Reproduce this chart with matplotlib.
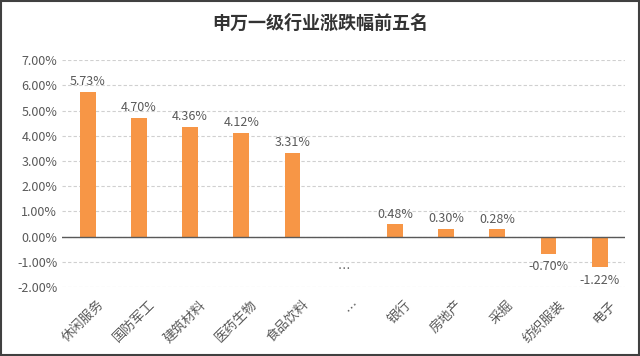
import matplotlib.pyplot as plt
import numpy as np

plt.rcParams['font.family'] = ['Noto Sans CJK SC', 'DejaVu Sans']

industries = ['休闲服务', '国防军工', '建筑材料', '医药生物', '食品饮料', '…',
              '银行', '房地产', '采掘', '纺织服装', '电子']
changes = [5.73, 4.70, 4.36, 4.12, 3.31, np.nan, 0.48, 0.30, 0.28, -0.70, -1.22]
yticks = [-2, -1, 0, 1, 2, 3, 4, 5, 6, 7]

text_color = '#595959'
bar_color = '#F79646'

fig = plt.figure(figsize=(6.4, 3.56), dpi=100)
ax = fig.add_axes([0.097, 0.194, 0.88, 0.637])

x = np.arange(len(industries))
vals = np.nan_to_num(changes)
ax.bar(x, vals, width=0.31, color=bar_color, zorder=3)

for xi, v in zip(x, changes):
    if np.isnan(v):
        ax.text(xi, -1.3, '…', ha='center', va='center', fontsize=9, color=text_color)
        continue
    if v >= 0:
        ax.text(xi, v + 0.15, f'{v:.2f}%', ha='center', va='bottom', fontsize=9, color=text_color)
    else:
        ax.text(xi, v - 0.25, f'{v:.2f}%', ha='center', va='top', fontsize=9, color=text_color)

ax.set_xlim(-0.5, len(industries) - 0.5)
ax.set_ylim(-2, 7)
ax.set_yticks(yticks)
ax.set_yticklabels([f'{t:.2f}%' for t in yticks], fontsize=9, color=text_color)
# labels sit a little right of the bar centre, like the original
ax.set_xticks(x + 0.18)
ax.set_xticklabels(industries, rotation=45, ha='right', rotation_mode='anchor',
                   fontsize=9.5, color=text_color)
ax.tick_params(axis='both', length=0)
ax.tick_params(axis='x', pad=8)
ax.grid(axis='y', linestyle=(0, (3, 2)), color='#D0D0D0', linewidth=0.8, zorder=0)
ax.axhline(0, color='#595959', linewidth=1, zorder=4)
for s in ax.spines.values():
    s.set_visible(False)

fig.text(0.5, 0.935, '申万一级行业涨跌幅前五名', ha='center', va='center',
         fontsize=13, fontweight='bold', color='#333333')

fig.patches.append(plt.Rectangle((0.002, 0.003), 0.996, 0.994, transform=fig.transFigure,
                                 fill=False, edgecolor='#404040', linewidth=1.5))

fig.savefig('out.png', dpi=100)
